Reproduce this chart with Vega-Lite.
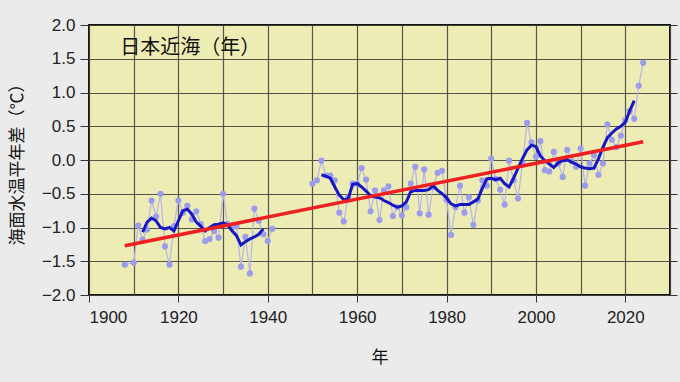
{
  "$schema": "https://vega.github.io/schema/vega-lite/v6.json",
  "width": 581,
  "height": 270,
  "autosize": {"type": "none"},
  "padding": {"left": 89, "top": 25, "right": 10, "bottom": 87},
  "background": "#ebebeb",
  "config": {
    "view": {"fill": "#eeecb5", "stroke": "#111111", "strokeWidth": 2},
    "font": "Liberation Sans",
    "axis": {
      "labelFont": "Liberation Sans",
      "labelFontSize": 17,
      "labelColor": "#222222",
      "titleFont": "Noto Sans CJK JP",
      "titleFontSize": 17,
      "titleFontWeight": "normal",
      "titleColor": "#111111",
      "domain": false,
      "tickColor": "#333333",
      "gridColor": "#45453a",
      "gridOpacity": 0.9,
      "gridWidth": 1.2
    }
  },
  "datasets": {
    "annual": [
      {"year": 1908, "anom": -1.55, "period": "a"},
      {"year": 1910, "anom": -1.52, "period": "a"},
      {"year": 1911, "anom": -0.97, "period": "a"},
      {"year": 1912, "anom": -1.18, "period": "a"},
      {"year": 1913, "anom": -1.03, "period": "a"},
      {"year": 1914, "anom": -0.60, "period": "a"},
      {"year": 1915, "anom": -0.84, "period": "a"},
      {"year": 1916, "anom": -0.50, "period": "a"},
      {"year": 1917, "anom": -1.28, "period": "a"},
      {"year": 1918, "anom": -1.55, "period": "a"},
      {"year": 1919, "anom": -0.98, "period": "a"},
      {"year": 1920, "anom": -0.60, "period": "a"},
      {"year": 1921, "anom": -0.78, "period": "a"},
      {"year": 1922, "anom": -0.68, "period": "a"},
      {"year": 1923, "anom": -0.88, "period": "a"},
      {"year": 1924, "anom": -0.76, "period": "a"},
      {"year": 1925, "anom": -0.95, "period": "a"},
      {"year": 1926, "anom": -1.20, "period": "a"},
      {"year": 1927, "anom": -1.17, "period": "a"},
      {"year": 1928, "anom": -1.05, "period": "a"},
      {"year": 1929, "anom": -1.15, "period": "a"},
      {"year": 1930, "anom": -0.50, "period": "a"},
      {"year": 1931, "anom": -0.95, "period": "a"},
      {"year": 1932, "anom": -1.00, "period": "a"},
      {"year": 1933, "anom": -0.98, "period": "a"},
      {"year": 1934, "anom": -1.58, "period": "a"},
      {"year": 1935, "anom": -1.14, "period": "a"},
      {"year": 1936, "anom": -1.68, "period": "a"},
      {"year": 1937, "anom": -0.72, "period": "a"},
      {"year": 1938, "anom": -0.90, "period": "a"},
      {"year": 1939, "anom": -1.10, "period": "a"},
      {"year": 1940, "anom": -1.20, "period": "a"},
      {"year": 1941, "anom": -1.02, "period": "a"},
      {"year": 1950, "anom": -0.35, "period": "b"},
      {"year": 1951, "anom": -0.30, "period": "b"},
      {"year": 1952, "anom": -0.01, "period": "b"},
      {"year": 1953, "anom": -0.23, "period": "b"},
      {"year": 1954, "anom": -0.23, "period": "b"},
      {"year": 1955, "anom": -0.30, "period": "b"},
      {"year": 1956, "anom": -0.78, "period": "b"},
      {"year": 1957, "anom": -0.91, "period": "b"},
      {"year": 1958, "anom": -0.55, "period": "b"},
      {"year": 1959, "anom": -0.35, "period": "b"},
      {"year": 1960, "anom": -0.35, "period": "b"},
      {"year": 1961, "anom": -0.12, "period": "b"},
      {"year": 1962, "anom": -0.29, "period": "b"},
      {"year": 1963, "anom": -0.76, "period": "b"},
      {"year": 1964, "anom": -0.45, "period": "b"},
      {"year": 1965, "anom": -0.89, "period": "b"},
      {"year": 1966, "anom": -0.45, "period": "b"},
      {"year": 1967, "anom": -0.39, "period": "b"},
      {"year": 1968, "anom": -0.83, "period": "b"},
      {"year": 1969, "anom": -0.70, "period": "b"},
      {"year": 1970, "anom": -0.82, "period": "b"},
      {"year": 1971, "anom": -0.70, "period": "b"},
      {"year": 1972, "anom": -0.35, "period": "b"},
      {"year": 1973, "anom": -0.10, "period": "b"},
      {"year": 1974, "anom": -0.79, "period": "b"},
      {"year": 1975, "anom": -0.14, "period": "b"},
      {"year": 1976, "anom": -0.81, "period": "b"},
      {"year": 1977, "anom": -0.40, "period": "b"},
      {"year": 1978, "anom": -0.19, "period": "b"},
      {"year": 1979, "anom": -0.16, "period": "b"},
      {"year": 1980, "anom": -0.59, "period": "b"},
      {"year": 1981, "anom": -1.11, "period": "b"},
      {"year": 1982, "anom": -0.70, "period": "b"},
      {"year": 1983, "anom": -0.38, "period": "b"},
      {"year": 1984, "anom": -0.78, "period": "b"},
      {"year": 1985, "anom": -0.55, "period": "b"},
      {"year": 1986, "anom": -0.96, "period": "b"},
      {"year": 1987, "anom": -0.60, "period": "b"},
      {"year": 1988, "anom": -0.30, "period": "b"},
      {"year": 1989, "anom": -0.38, "period": "b"},
      {"year": 1990, "anom": 0.02, "period": "b"},
      {"year": 1991, "anom": -0.28, "period": "b"},
      {"year": 1992, "anom": -0.44, "period": "b"},
      {"year": 1993, "anom": -0.66, "period": "b"},
      {"year": 1994, "anom": -0.01, "period": "b"},
      {"year": 1995, "anom": -0.30, "period": "b"},
      {"year": 1996, "anom": -0.57, "period": "b"},
      {"year": 1997, "anom": -0.05, "period": "b"},
      {"year": 1998, "anom": 0.55, "period": "b"},
      {"year": 1999, "anom": 0.26, "period": "b"},
      {"year": 2000, "anom": 0.05, "period": "b"},
      {"year": 2001, "anom": 0.28, "period": "b"},
      {"year": 2002, "anom": -0.15, "period": "b"},
      {"year": 2003, "anom": -0.17, "period": "b"},
      {"year": 2004, "anom": 0.12, "period": "b"},
      {"year": 2005, "anom": -0.05, "period": "b"},
      {"year": 2006, "anom": -0.25, "period": "b"},
      {"year": 2007, "anom": 0.15, "period": "b"},
      {"year": 2008, "anom": -0.02, "period": "b"},
      {"year": 2009, "anom": -0.10, "period": "b"},
      {"year": 2010, "anom": 0.17, "period": "b"},
      {"year": 2011, "anom": -0.38, "period": "b"},
      {"year": 2012, "anom": -0.05, "period": "b"},
      {"year": 2013, "anom": 0.07, "period": "b"},
      {"year": 2014, "anom": -0.22, "period": "b"},
      {"year": 2015, "anom": -0.05, "period": "b"},
      {"year": 2016, "anom": 0.53, "period": "b"},
      {"year": 2017, "anom": 0.30, "period": "b"},
      {"year": 2018, "anom": 0.19, "period": "b"},
      {"year": 2019, "anom": 0.36, "period": "b"},
      {"year": 2020, "anom": 0.59, "period": "b"},
      {"year": 2021, "anom": 0.73, "period": "b"},
      {"year": 2022, "anom": 0.61, "period": "b"},
      {"year": 2023, "anom": 1.10, "period": "b"},
      {"year": 2024, "anom": 1.44, "period": "b"}
    ],
    "smooth": [
      {"year": 1912, "anom": -1.07, "period": "a"},
      {"year": 1913, "anom": -0.92, "period": "a"},
      {"year": 1914, "anom": -0.86, "period": "a"},
      {"year": 1915, "anom": -0.90, "period": "a"},
      {"year": 1916, "anom": -1.00, "period": "a"},
      {"year": 1917, "anom": -1.02, "period": "a"},
      {"year": 1918, "anom": -1.00, "period": "a"},
      {"year": 1919, "anom": -1.05, "period": "a"},
      {"year": 1920, "anom": -0.90, "period": "a"},
      {"year": 1921, "anom": -0.75, "period": "a"},
      {"year": 1922, "anom": -0.73, "period": "a"},
      {"year": 1923, "anom": -0.80, "period": "a"},
      {"year": 1924, "anom": -0.92, "period": "a"},
      {"year": 1925, "anom": -0.98, "period": "a"},
      {"year": 1926, "anom": -1.05, "period": "a"},
      {"year": 1927, "anom": -1.00, "period": "a"},
      {"year": 1928, "anom": -0.96, "period": "a"},
      {"year": 1929, "anom": -0.95, "period": "a"},
      {"year": 1930, "anom": -0.93, "period": "a"},
      {"year": 1931, "anom": -0.96, "period": "a"},
      {"year": 1932, "anom": -1.05, "period": "a"},
      {"year": 1933, "anom": -1.12, "period": "a"},
      {"year": 1934, "anom": -1.26, "period": "a"},
      {"year": 1935, "anom": -1.21, "period": "a"},
      {"year": 1936, "anom": -1.17, "period": "a"},
      {"year": 1937, "anom": -1.14, "period": "a"},
      {"year": 1938, "anom": -1.10, "period": "a"},
      {"year": 1939, "anom": -1.02, "period": "a"},
      {"year": 1952, "anom": -0.22, "period": "b"},
      {"year": 1953, "anom": -0.24, "period": "b"},
      {"year": 1954, "anom": -0.27, "period": "b"},
      {"year": 1955, "anom": -0.40, "period": "b"},
      {"year": 1956, "anom": -0.52, "period": "b"},
      {"year": 1957, "anom": -0.59, "period": "b"},
      {"year": 1958, "anom": -0.57, "period": "b"},
      {"year": 1959, "anom": -0.36, "period": "b"},
      {"year": 1960, "anom": -0.35, "period": "b"},
      {"year": 1961, "anom": -0.40, "period": "b"},
      {"year": 1962, "anom": -0.46, "period": "b"},
      {"year": 1963, "anom": -0.53, "period": "b"},
      {"year": 1964, "anom": -0.55, "period": "b"},
      {"year": 1965, "anom": -0.56, "period": "b"},
      {"year": 1966, "anom": -0.60, "period": "b"},
      {"year": 1967, "anom": -0.63, "period": "b"},
      {"year": 1968, "anom": -0.67, "period": "b"},
      {"year": 1969, "anom": -0.70, "period": "b"},
      {"year": 1970, "anom": -0.68, "period": "b"},
      {"year": 1971, "anom": -0.62, "period": "b"},
      {"year": 1972, "anom": -0.47, "period": "b"},
      {"year": 1973, "anom": -0.45, "period": "b"},
      {"year": 1974, "anom": -0.45, "period": "b"},
      {"year": 1975, "anom": -0.45, "period": "b"},
      {"year": 1976, "anom": -0.44, "period": "b"},
      {"year": 1977, "anom": -0.38, "period": "b"},
      {"year": 1978, "anom": -0.45, "period": "b"},
      {"year": 1979, "anom": -0.50, "period": "b"},
      {"year": 1980, "anom": -0.56, "period": "b"},
      {"year": 1981, "anom": -0.65, "period": "b"},
      {"year": 1982, "anom": -0.68, "period": "b"},
      {"year": 1983, "anom": -0.66, "period": "b"},
      {"year": 1984, "anom": -0.66, "period": "b"},
      {"year": 1985, "anom": -0.66, "period": "b"},
      {"year": 1986, "anom": -0.62, "period": "b"},
      {"year": 1987, "anom": -0.58, "period": "b"},
      {"year": 1988, "anom": -0.42, "period": "b"},
      {"year": 1989, "anom": -0.28, "period": "b"},
      {"year": 1990, "anom": -0.27, "period": "b"},
      {"year": 1991, "anom": -0.29, "period": "b"},
      {"year": 1992, "anom": -0.27, "period": "b"},
      {"year": 1993, "anom": -0.35, "period": "b"},
      {"year": 1994, "anom": -0.40, "period": "b"},
      {"year": 1995, "anom": -0.27, "period": "b"},
      {"year": 1996, "anom": -0.12, "period": "b"},
      {"year": 1997, "anom": 0.02, "period": "b"},
      {"year": 1998, "anom": 0.15, "period": "b"},
      {"year": 1999, "anom": 0.22, "period": "b"},
      {"year": 2000, "anom": 0.20, "period": "b"},
      {"year": 2001, "anom": 0.06, "period": "b"},
      {"year": 2002, "anom": -0.01, "period": "b"},
      {"year": 2003, "anom": -0.06, "period": "b"},
      {"year": 2004, "anom": -0.11, "period": "b"},
      {"year": 2005, "anom": -0.04, "period": "b"},
      {"year": 2006, "anom": -0.01, "period": "b"},
      {"year": 2007, "anom": 0.00, "period": "b"},
      {"year": 2008, "anom": -0.03, "period": "b"},
      {"year": 2009, "anom": -0.06, "period": "b"},
      {"year": 2010, "anom": -0.10, "period": "b"},
      {"year": 2011, "anom": -0.12, "period": "b"},
      {"year": 2012, "anom": -0.13, "period": "b"},
      {"year": 2013, "anom": -0.12, "period": "b"},
      {"year": 2014, "anom": 0.02, "period": "b"},
      {"year": 2015, "anom": 0.19, "period": "b"},
      {"year": 2016, "anom": 0.33, "period": "b"},
      {"year": 2017, "anom": 0.40, "period": "b"},
      {"year": 2018, "anom": 0.46, "period": "b"},
      {"year": 2019, "anom": 0.50, "period": "b"},
      {"year": 2020, "anom": 0.56, "period": "b"},
      {"year": 2021, "anom": 0.73, "period": "b"},
      {"year": 2022, "anom": 0.88, "period": "b"}
    ],
    "trend": [
      {"year": 1908, "anom": -1.27},
      {"year": 2024, "anom": 0.27}
    ],
    "label": [
      {"year": 1907, "anom": 1.66, "text": "日本近海（年）"}
    ]
  },
  "resolve": {"axis": {"x": "independent", "y": "independent"}},
  "layer": [
    {
      "data": {"name": "annual"},
      "mark": {"type": "line", "color": "#b4b4ea", "strokeWidth": 1.2},
      "encoding": {
        "x": {
          "field": "year", "type": "quantitative",
          "scale": {"domain": [1900, 2030], "nice": false, "zero": false},
          "axis": {
            "orient": "bottom", "values": [1900, 1920, 1940, 1960, 1980, 2000, 2020],
            "format": "d", "grid": false, "tickSize": 7, "labelPadding": 7,
            "title": "年", "titlePadding": 24
          }
        },
        "y": {
          "field": "anom", "type": "quantitative",
          "scale": {"domain": [-2, 2], "nice": false, "zero": false},
          "axis": {
            "orient": "left", "values": [-2, -1.5, -1, -0.5, 0, 0.5, 1, 1.5, 2],
            "format": ".1f", "grid": true, "tickSize": 9, "labelPadding": 5,
            "title": "海面水温平年差（℃）", "titlePadding": 15
          }
        },
        "detail": {"field": "period"}
      }
    },
    {
      "data": {"name": "annual"},
      "mark": {"type": "circle", "color": "#9c9cec", "size": 38, "opacity": 1},
      "encoding": {
        "x": {
          "field": "year", "type": "quantitative",
          "axis": {
            "orient": "top", "values": [1900, 1910, 1920, 1930, 1940, 1950, 1960, 1970, 1980, 1990, 2000, 2010, 2020, 2030],
            "grid": true, "labels": false, "ticks": false, "title": null
          }
        },
        "y": {
          "field": "anom", "type": "quantitative",
          "axis": {
            "orient": "right", "values": [-2, -1.5, -1, -0.5, 0, 0.5, 1, 1.5, 2],
            "grid": false, "labels": false, "tickSize": 7, "title": null
          }
        }
      }
    },
    {
      "data": {"name": "smooth"},
      "mark": {"type": "line", "color": "#1616c4", "strokeWidth": 3},
      "encoding": {
        "x": {"field": "year", "type": "quantitative", "axis": null},
        "y": {"field": "anom", "type": "quantitative", "axis": null},
        "detail": {"field": "period"}
      }
    },
    {
      "data": {"name": "trend"},
      "mark": {"type": "line", "color": "#ec2020", "strokeWidth": 3.5},
      "encoding": {
        "x": {"field": "year", "type": "quantitative", "axis": null},
        "y": {"field": "anom", "type": "quantitative", "axis": null}
      }
    },
    {
      "data": {"name": "label"},
      "mark": {"type": "text", "align": "left", "baseline": "middle", "font": "Noto Sans CJK JP", "fontSize": 20, "color": "#111111"},
      "encoding": {
        "x": {"field": "year", "type": "quantitative", "axis": null},
        "y": {"field": "anom", "type": "quantitative", "axis": null},
        "text": {"field": "text"}
      }
    }
  ]
}
